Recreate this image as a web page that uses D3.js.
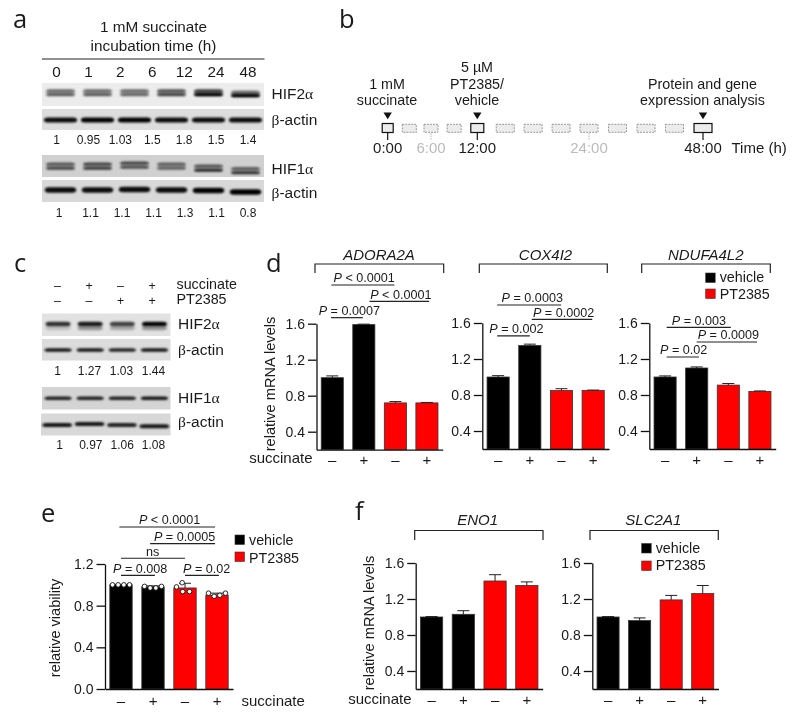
<!DOCTYPE html>
<html><head><meta charset="utf-8">
<style>html,body{margin:0;padding:0;background:#fff}svg{display:block;filter:blur(0.3px)}text{font-family:"Liberation Sans",Arial,sans-serif;fill:#1a1a1a}</style>
<script src="https://cdnjs.cloudflare.com/ajax/libs/d3/7.8.5/d3.min.js"></script>
</head><body><svg id="c" width="796" height="717"></svg>
<script>
// ---------- data ----------
const conditions = ["v-", "v+", "p-", "p+"];
const signLabels = ["–", "+", "–", "+"];
const ticksMRNA = [0.4, 0.8, 1.2, 1.6];
const ticksViability = [0, 0.4, 0.8, 1.2];

const adora2a = [1.0, 1.59, 0.72, 0.72];
const adora2aErr = [0.02, 0.005, 0.015, 0.005];
const cox4i2 = [1.0, 1.35, 0.85, 0.85];
const cox4i2Err = [0.015, 0.015, 0.02, 0.005];
const ndufa4l2 = [1.0, 1.10, 0.91, 0.84];
const ndufa4l2Err = [0.012, 0.012, 0.018, 0.005];
const eno1 = [1.0, 1.03, 1.40, 1.35];
const eno1Err = [0.005, 0.04, 0.07, 0.04];
const slc2a1 = [1.0, 0.96, 1.19, 1.26];
const slc2a1Err = [0.005, 0.03, 0.05, 0.09];
const viability = [1.0, 0.98, 0.97, 0.90];
const viabilityErr = [0.003, 0.01, 0.045, 0.02];
const viabilityPoints = [
  [[0,1.0],[1,1.0],[2,1.0],[3,1.0]],
  [[0,0.985],[1,0.97],[2,0.97],[3,0.985]],
  [[0,0.98],[1,1.02],[1.1,0.935],[2.3,0.935]],
  [[0,0.92],[1,0.89],[2,0.90],[3,0.92]]
];
// label, from bar, to bar, level (axis units), text start (bar units)
const annAdora = [["P","= 0.0007",-0.04,0.97,1.667,-0.43],["P","< 0.0001",-0.03,1.97,2.03,0.04],["P","< 0.0001",1.18,3.07,1.849,1.2]];
const annCox = [["P","= 0.0003",-0.03,1.99,1.8,0.11],["P","= 0.0002",1.06,2.97,1.641,1.1],["P","= 0.002",-0.03,1.0,1.456,-0.28]];
const annNdufa = [["P"," = 0.003",0.05,2.08,1.552,0.21],["P"," = 0.0009",1.0,2.91,1.389,1.03],["P","= 0.02",0.05,1.07,1.222,-0.16]];
const annViability = [["P","< 0.0001",-0.05,2.94,1.555,0.56],["P","= 0.0005",0.91,2.94,1.395,1.03],["","ns",0,2,1.255,0.78],["P","= 0.008",0,1.06,1.091,-0.25],["P","= 0.02",2,3.06,1.091,1.94]];

const timeLanesA = ["0","1","2","6","12","24","48"];
const quantA1 = ["1","0.95","1.03","1.5","1.8","1.5","1.4"];
const quantA2 = ["1","1.1","1.1","1.1","1.3","1.1","0.8"];
const quantC1 = ["1","1.27","1.03","1.44"];
const quantC2 = ["1","0.97","1.06","1.08"];
const signsSuccinate = ["–","+","–","+"];
const signsPT = ["–","–","+","+"];
// band darkness per lane
const a2top = [.5,.5,.5,.6,.6,.25];
const a2mid = [.2,.2,.2,.25,.5,.5];
const a2bot = [.55,.55,.5,.65,1,1];
const aAct1 = [.95,1,1,.95,.95,.95];
const a1top = [.55,.65,.65,.5,.55,.5];
const a1mid = [.2,.2,.2,.2,.2,.2];
const a1bot = [.65,.7,.6,.5,.8,.75];
const aAct2 = [.95,.95,.95,.95,1,1];
const c2 = [.8,.9,.72,1];
const c2haze = [.15,.35,.25,.35];
const cAct1 = [.9,.9,.85,.9];
const c1 = [.85,.85,.85,.9];
const cAct2 = [.9,.9,.85,.9];
// per-lane vertical drift of the bands
const a1Shift = [0,0,-1,0,2,4.5];
const a2Shift = [0,0,0,0,0,1];
const aAct2Shift = [0,0,-.5,0,.5,2];
const cAct2Shift = [0,-1,0,1.3];
// timeline hours of each box
const boxHours = [0,3,6,9,12,15,18,21,24,30,36,42,48];
const solidHours = [0,12,48];
const tickedHours = [0,6,12,24,48];

// ---------- helpers ----------
const svg = d3.select("#c");
const defs = svg.append("defs");
defs.append("filter").attr("id","blur").attr("x","-20%").attr("y","-100%").attr("width","140%").attr("height","300%")
  .append("feGaussianBlur").attr("stdDeviation","0.8");
const text = (x,y,s,size,o={})=>svg.append("text").attr("x",x).attr("y",y).attr("font-size",size)
  .attr("text-anchor",o.anchor||"start").attr("font-style",o.italic?"italic":null).style("fill",o.fill||null).text(s);
const letter = (x,y,s)=>text(x,y,s,25.5,{}).style("font-family",'"Open Sans",sans-serif');
const greek = (x,y,g,before,after)=>{
  const t=svg.append("text").attr("x",x).attr("y",y).attr("font-size",15.5);
  if(before)t.append("tspan").text(before);
  t.append("tspan").style("font-family",'"Liberation Serif",serif').text(g);
  if(after)t.append("tspan").text(after);
};

function blot(x0,x1,y0,y1,bg,rows){
  const g=svg.append("g");
  g.append("rect").attr("x",x0).attr("y",y0).attr("width",x1-x0).attr("height",y1-y0).attr("fill",bg);
  const n=rows[0].dark.length;
  const lane=d3.scaleBand().domain(d3.range(n)).range([x0,x1]);
  rows.forEach(r=>{
    const w=lane.bandwidth()*(r.w||0.78);
    g.append("g").attr("filter","url(#blur)").selectAll("rect").data(r.dark).join("rect")
      .attr("x",(d,i)=>lane(i)+lane.bandwidth()/2-w/2).attr("width",w)
      .attr("y",(d,i)=>y0+r.y+(r.shift?r.shift[i]:0)-r.h/2).attr("height",r.h)
      .attr("rx",4).attr("ry",r.h/2)
      .attr("fill","#000").attr("opacity",d=>d);
  });
}
function rowText(scale,arr,y,size){
  svg.append("g").selectAll("text").data(arr).join("text")
    .attr("x",(d,i)=>scale(i)).attr("y",y).attr("font-size",size).attr("text-anchor","middle").text(d=>d);
}
function chart(o){
  const g=svg.append("g");
  const x=d3.scaleBand().domain(d3.range(conditions.length)).range([o.x0,o.x1]);
  const y=d3.scaleLinear().domain(o.domain).range([o.base,o.top]);
  const bw=x.bandwidth()*0.7, cx=i=>x(i)+x.bandwidth()/2;
  // bars
  g.selectAll(".bar").data(o.values).join("rect").attr("class","bar")
    .attr("x",(d,i)=>cx(i)-bw/2).attr("width",bw)
    .attr("y",d=>y(d)).attr("height",d=>o.base-y(d))
    .attr("fill",(d,i)=>i<2?"#000":"#f00").attr("stroke","#333").attr("stroke-width",0.8);
  // error bars
  const eb=g.selectAll(".eb").data(o.values).join("g").attr("class","eb").attr("stroke","#222").attr("stroke-width",1);
  eb.append("line").attr("x1",(d,i)=>cx(i)).attr("x2",(d,i)=>cx(i)).attr("y1",d=>y(d)).attr("y2",(d,i)=>y(d+o.err[i]));
  eb.append("line").attr("x1",(d,i)=>cx(i)-6).attr("x2",(d,i)=>cx(i)+6).attr("y1",(d,i)=>y(d+o.err[i])).attr("y2",(d,i)=>y(d+o.err[i]));
  // axes
  const ay=g.append("g").attr("transform",`translate(${o.x0},0)`).call(d3.axisLeft(y).tickValues(o.ticks).tickFormat(d3.format(".1f")).tickSize(8.5).tickPadding(3).tickSizeOuter(0));
  const ax=g.append("g").attr("transform",`translate(0,${o.base})`).call(d3.axisBottom(x).tickSize(0).tickPadding(o.signPad||5).tickFormat(i=>signLabels[i]));
  ay.selectAll("text").attr("font-size",14).style("font-family",'"Liberation Sans",sans-serif');
  ax.selectAll("text").attr("font-size",15).style("font-family",'"Liberation Sans",sans-serif');
  g.selectAll(".domain,.tick line").attr("stroke","#111").attr("stroke-width",1.3);
  // annotations
  (o.ann||[]).forEach(a=>{
    const [p,rest,f,t,lev,tx]=a;
    const yy=y(lev);
    g.append("line").attr("x1",cx(0)+f*x.step()).attr("x2",cx(0)+t*x.step()).attr("y1",yy).attr("y2",yy).attr("stroke","#222").attr("stroke-width",1.2);
    const te=g.append("text").attr("x",cx(0)+tx*x.step()).attr("y",yy-2.6).attr("font-size",12.6);
    if(p)te.append("tspan").attr("font-style","italic").text(p);
    te.append("tspan").text(p?" "+rest.trim():rest);
  });
  return {x,y,cx,g,bw};
}
function bracket(x0,x1,top,drop){
  svg.append("path").attr("d",d3.line()([[x0,top+drop],[x0,top],[x1,top],[x1,top+drop]])).attr("fill","none").attr("stroke","#222").attr("stroke-width",1.2);
}
function legend(x,y1,y2,t1,t2,ts){
  [[y1,"#000","vehicle",t1],[y2,"#f00","PT2385",t2]].forEach(([yy,c,s,t])=>{
    svg.append("rect").attr("x",x).attr("y",yy).attr("width",9.5).attr("height",9.5).attr("fill",c).attr("stroke","#333").attr("stroke-width",.6);
    text(x+14,t,s,ts);
  });
}
function ylab(x,y,s,size){
  svg.append("text").attr("transform",`translate(${x},${y}) rotate(-90)`).attr("text-anchor","middle").attr("font-size",size).text(s);
}

// ---------- panel letters ----------
letter(13,28,"a");letter(339,28,"b");letter(14,272,"c");letter(266,272,"d");letter(41,522,"e");letter(355,520,"f");

// ---------- panel a ----------
text(153.5,32,"1 mM succinate",15.3,{anchor:"middle"});
text(153.5,51,"incubation time (h)",15.3,{anchor:"middle"});
svg.append("line").attr("x1",42).attr("x2",264.5).attr("y1",59).attr("y2",59).attr("stroke","#222").attr("stroke-width",1);
const laneA=d3.scalePoint().domain(d3.range(7)).range([56.5,248]);
rowText(laneA,timeLanesA,77,15.3);
blot(42,264,83,106,"#ececec",[{y:7.7,h:3,dark:a2top,shift:a2Shift},{y:9.7,h:5,dark:a2mid,shift:a2Shift},{y:11.7,h:3.2,dark:a2bot,shift:a2Shift}]);
blot(42,264,109,130,"#dddddd",[{y:11,h:5,dark:aAct1,w:.9}]);
blot(42,264,155,177,"#d0d0d0",[{y:9,h:3,dark:a1top,shift:a1Shift},{y:11,h:5,dark:a1mid,shift:a1Shift},{y:13.3,h:3,dark:a1bot,shift:a1Shift}]);
blot(42,264,180,202,"#d8d8d8",[{y:10,h:5.4,dark:aAct2,shift:aAct2Shift,w:.85}]);
greek(271.5,98.5,"α","HIF2");greek(271.5,125,"β",null,"-actin");greek(271.5,173.5,"α","HIF1");greek(271.5,197.5,"β",null,"-actin");
rowText(laneA,quantA1,143.5,12);
rowText(d3.scalePoint().domain(d3.range(7)).range([59,248]),quantA2,217,12);

// ---------- panel b ----------
const tx=d3.scaleLinear().domain([0,6,12,24,48]).range([387.7,431,477.3,589,703]);
const boxW=h=>solidHours.includes(h)?(h===0?11:h===12?13:18):(h<12?14:18);
svg.append("g").selectAll("rect").data(boxHours).join("rect")
  .attr("x",h=>tx(h)-boxW(h)/2).attr("width",boxW)
  .attr("y",h=>solidHours.includes(h)?123.5:124.3).attr("height",h=>solidHours.includes(h)?9:8)
  .attr("fill","#ececec")
  .attr("stroke",h=>solidHours.includes(h)?"#111":"#888").attr("stroke-width",h=>solidHours.includes(h)?1.2:.9)
  .attr("stroke-dasharray",h=>solidHours.includes(h)?null:"1.8 1.2");
svg.append("g").selectAll("line").data(tickedHours).join("line")
  .attr("x1",tx).attr("x2",tx).attr("y1",133).attr("y2",140)
  .attr("stroke",h=>solidHours.includes(h)?"#111":"#aaa").attr("stroke-width",h=>solidHours.includes(h)?1.2:.9)
  .attr("stroke-dasharray",h=>solidHours.includes(h)?null:"1.5 1");
svg.append("g").selectAll("path").data(solidHours).join("path")
  .attr("d",h=>`M${tx(h)-4.2},112.6L${tx(h)+4.2},112.6L${tx(h)},119.2Z`).attr("fill","#111");
svg.append("g").selectAll("text").data(tickedHours).join("text")
  .attr("x",tx).attr("y",152.5).attr("font-size",15).attr("text-anchor","middle")
  .style("fill",h=>solidHours.includes(h)?"#1a1a1a":"#bbb").text(h=>h+":00");
text(731.5,152.5,"Time (h)",15);
text(387,88.5,"1 mM",14.3,{anchor:"middle"});text(387,105,"succinate",14.3,{anchor:"middle"});
text(477,72,"5 µM",14.3,{anchor:"middle"});text(477,88.5,"PT2385/",14.3,{anchor:"middle"});text(477,105,"vehicle",14.3,{anchor:"middle"});
text(702.5,88.5,"Protein and gene",14.3,{anchor:"middle"});text(702.5,105,"expression analysis",14.3,{anchor:"middle"});

// ---------- panel c ----------
const laneC=d3.scalePoint().domain(d3.range(4)).range([57.5,152]);
rowText(laneC,signsSuccinate,290.3,12.4);rowText(laneC,signsPT,305,12.4);
text(176.5,288.5,"succinate",14.3);text(176.5,303.5,"PT2385",14.3);
blot(42,170.5,313.5,336,"#e2e2e2",[{y:10.5,h:4.6,dark:c2},{y:14.5,h:4.5,dark:c2haze}]);
blot(42,170.5,339,360.5,"#dcdcdc",[{y:11,h:3.6,dark:cAct1,w:.85}]);
blot(42,170.5,387,409.5,"#d4d4d4",[{y:11.3,h:3.6,dark:c1,w:.85}]);
blot(41,170.5,413.5,435.5,"#d8d8d8",[{y:11.5,h:4,dark:cAct2,shift:cAct2Shift,w:.92}]);
greek(178,328.5,"α","HIF2");greek(178,354.5,"β",null,"-actin");greek(178,402.5,"α","HIF1");greek(178,426.5,"β",null,"-actin");
rowText(d3.scalePoint().domain(d3.range(4)).range([57.5,153.5]),quantC1,375,12);
rowText(d3.scalePoint().domain(d3.range(4)).range([59.5,153.5]),quantC2,449,12);

// ---------- panel d ----------
const dm={domain:[0.2,1.6],ticks:ticksMRNA};
chart({...dm,x0:316.5,x1:442.7,base:449.7,top:323.7,values:adora2a,err:adora2aErr,ann:annAdora});
chart({...dm,x0:482.3,x1:609,base:449,top:323,values:cox4i2,err:cox4i2Err,ann:annCox});
chart({...dm,x0:649.3,x1:775.7,base:449,top:323,values:ndufa4l2,err:ndufa4l2Err,ann:annNdufa});
bracket(315,443.7,264,9);bracket(479.3,607.3,264,9);bracket(641.7,770.3,264,9);
text(379,259.5,"ADORA2A",15,{anchor:"middle",italic:true});
text(545.5,259.5,"COX4I2",15,{anchor:"middle",italic:true});
text(705.7,259.5,"NDUFA4L2",15,{anchor:"middle",italic:true});
ylab(275,384,"relative mRNA levels",14.6);
text(312.5,462.5,"succinate",15,{anchor:"end"});
legend(705.7,273,289,282.2,299.2,14.3);

// ---------- panel e ----------
const pe=chart({domain:[0,1.2],ticks:ticksViability,x0:105,x1:233,base:689,top:564,values:viability,err:viabilityErr,ann:annViability,signPad:6});
const dotX=d3.scaleLinear().domain([0,3]).range([-8.5,8.5]);
pe.g.append("g").selectAll("g").data(viabilityPoints).join("g").each(function(pts,i){
  d3.select(this).selectAll("circle").data(pts).join("circle")
    .attr("cx",d=>pe.cx(i)+dotX(d[0])).attr("cy",d=>pe.y(d[1])).attr("r",2.3)
    .attr("fill","#fff").attr("stroke","#111").attr("stroke-width",.9);
});
ylab(60,628,"relative viability",14.5);
text(241.5,705.5,"succinate",15);
legend(235,535,552,544.8,563,14.3);

// ---------- panel f ----------
chart({...dm,x0:415.7,x1:542.7,base:689,top:563,values:eno1,err:eno1Err});
chart({...dm,x0:592.3,x1:718.5,base:689,top:563,values:slc2a1,err:slc2a1Err});
bracket(414.7,543,530.5,9.5);bracket(590,718.3,530.5,9.5);
text(477.7,524.5,"ENO1",15,{anchor:"middle",italic:true});
text(653.3,524.5,"SLC2A1",15,{anchor:"middle",italic:true});
ylab(374,623,"relative mRNA levels",14.6);
text(411.5,703.5,"succinate",15,{anchor:"end"});
legend(641.7,543.5,561,552.5,570,14.3);
</script></body></html>
